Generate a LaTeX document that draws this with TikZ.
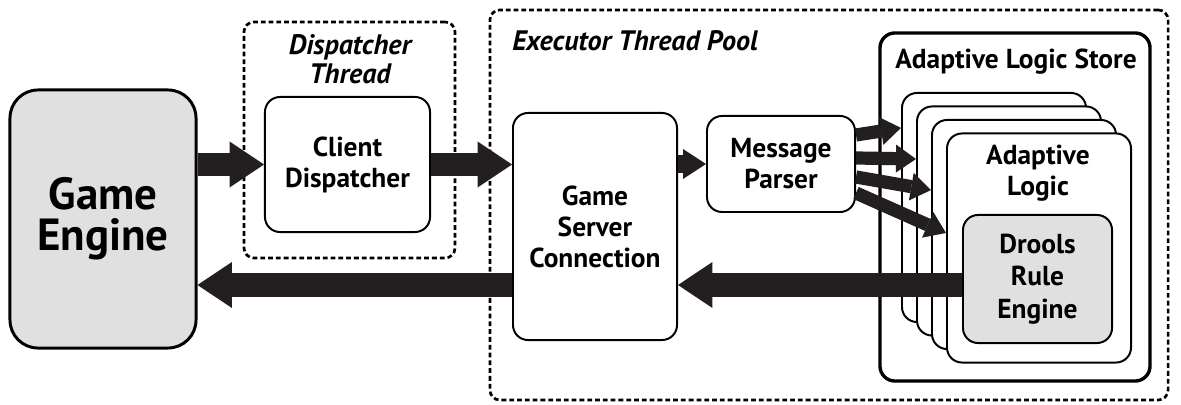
\documentclass[tikz,border=0pt]{standalone}
\usepackage{fontspec}
\setmainfont{PT Sans}
\usetikzlibrary{positioning,arrows.meta,calc}
\definecolor{ink}{HTML}{231F20}
\definecolor{boxgray}{HTML}{E0E0E0}

\begin{document}
\begin{tikzpicture}[x=0.025cm, y=-0.025cm,
  every node/.style={font=\bfseries\fontsize{19.5}{22}\selectfont, align=center, inner sep=0pt},
  b/.style={draw, line width=1.4pt, rounded corners=0.375cm, fill=white},
  g/.style={b, fill=boxgray},
  grp/.style={draw, line width=1.9pt, dash pattern=on 0.12cm off 0.075cm, rounded corners=0.25cm},
  ttl/.style={font=\bfseries\itshape\fontsize{20}{20.5}\selectfont},
  fat/.style={ink, line width=0.575cm, -{Triangle[length=0.86cm, width=1.15cm, line width=0pt]}},
  short/.style={ink, line width=0.45cm, -{Triangle[length=0.575cm, width=0.75cm, line width=0pt]}},
  fan/.style={ink, line width=0.33cm, -{Triangle[length=0.5cm, width=0.7cm, line width=0pt]}}]
  \useasboundingbox (0,0) rectangle (1181,405);
  % left: the engine and the dispatcher thread
  \node[g, minimum width=4.65cm, minimum height=6.45cm, rounded corners=0.7cm, line width=2.1pt,
    font=\bfseries\fontsize{32}{29}\selectfont] (engine) at (103,219) {Game\\Engine};
  \node[grp, minimum width=5.275cm, minimum height=5.9cm] (dthread) at (349.5,140) {};
  \node[ttl] (dtitle) at (350,59) {Dispatcher\\Thread};
  \node[b, minimum width=4.125cm, minimum height=3.375cm] (client) at (347.5,164.5) {Client\\Dispatcher};
  % right: the executor pool
  \node[grp, minimum width=16.95cm, minimum height=9.75cm] (pool) at (829,205) {};
  \node[ttl, anchor=west] (ptitle) at (512,41) {Executor Thread Pool};
  \node[b, minimum width=4.1cm, minimum height=5.675cm] (gsc) at (595,226.5) {Game\\Server\\Connection};
  \node[b, minimum width=3.7cm, minimum height=2.4cm] (parser) at (781,164) {Message\\Parser};
  \node[b, line width=2.4pt, minimum width=6.75cm, minimum height=8.7cm] (store) at (1015,207) {};
  \node (stitle) at (1016,62) {Adaptive Logic Store};
  \foreach \k in {1,...,4}
    \node[b, minimum width=4.6cm, minimum height=5.725cm] (logic\k) at ({994+15*(\k-1)},{207.5+13.5*(\k-1)}) {};
  \node (ltitle) at (1038,173) {Adaptive\\Logic};
  \node[g, minimum width=3.725cm, minimum height=3.2cm, font=\bfseries\fontsize{19.5}{23}\selectfont]
    (drools) at (1037.5,279) {Drools\\Rule\\Engine};
  % connectors
  \coordinate (back) at ([yshift=-0.15cm]drools.west);
  \draw[fat] (engine.east |- client.west) -- (client.west);
  \draw[fat] (client.east) -- (client.east -| gsc.west);
  \draw[short] (gsc.east |- parser.west) -- (parser.west);
  \foreach \s/\e [count=\k] in {0.725/1.99, 0.15/1.55, -0.325/1.11, -0.725/0.375}
    \draw[fan] ([yshift=\s cm]parser.east) -- ([yshift=\e cm]logic\k.west);
  \draw[fat] (back) -- (back -| gsc.east);
  \draw[fat] (back -| gsc.west) -- (back -| engine.east);
\end{tikzpicture}
\end{document}
